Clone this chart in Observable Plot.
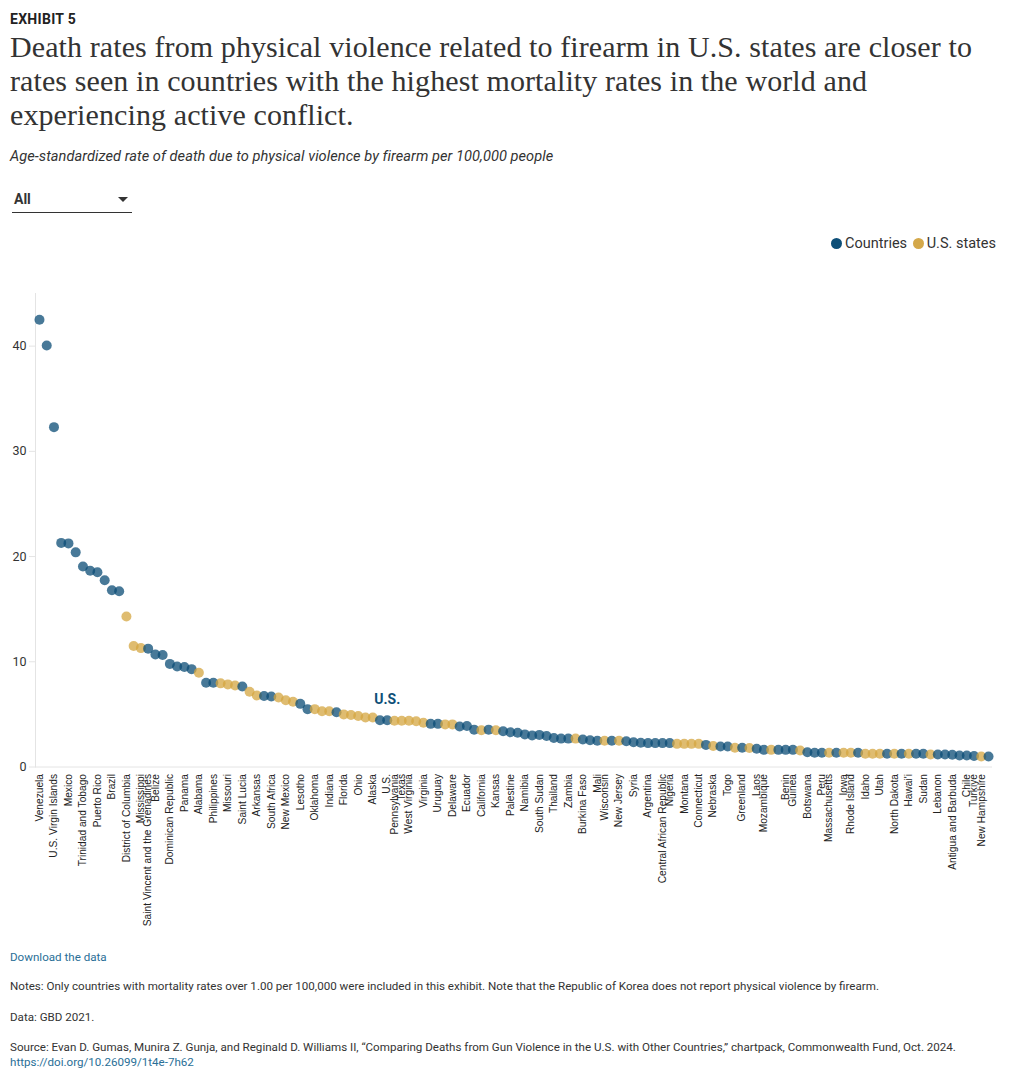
<!DOCTYPE html>
<html>
<head>
<meta charset="utf-8">
<script src="https://cdn.jsdelivr.net/npm/d3@7"></script>
<script src="https://cdn.jsdelivr.net/npm/@observablehq/plot@0.6"></script>
<style>
  html, body { margin: 0; padding: 0; background: #fff; }
  body { width: 1020px; height: 1081px; position: relative; font-family: Roboto, "Noto Sans", sans-serif; color: #333; overflow: hidden; }
  .abs { position: absolute; left: 10px; white-space: nowrap; }
  #exhibit { top: 11px; font-weight: 700; font-size: 14px; line-height: 16px; color: #222; letter-spacing: 0.3px; }
  #title { top: 30px; font-family: "Liberation Serif", "DejaVu Serif", serif; font-size: 30px; line-height: 34px; color: #333; letter-spacing: 0.1px; }
  #subtitle { top: 147px; font-style: italic; font-size: 14.6px; line-height: 18px; color: #333; letter-spacing: 0.05px; }
  #dropdown { top: 189px; left: 12px; width: 120px; height: 23px; border-bottom: 1px solid #333; }
  #dropdown span { position: absolute; left: 2px; top: 1px; font-weight: 700; font-size: 14px; line-height: 18px; color: #333; }
  #dropdown i { position: absolute; left: 106px; top: 8px; width: 0; height: 0; border-left: 5px solid transparent; border-right: 5px solid transparent; border-top: 5px solid #333; }
  #legend { position: absolute; top: 235px; right: 24px; font-size: 14.5px; line-height: 18px; color: #333; white-space: nowrap; }
  #legend .sw { display: inline-block; width: 11px; height: 11px; border-radius: 50%; vertical-align: -1px; margin-right: 3px; }
  #chart { position: absolute; top: 260px; left: 0; }
  .foot { font-size: 11.6px; line-height: 14px; color: #333; }
  .link { color: #2a6f97; }
</style>
</head>
<body>
<div id="exhibit" class="abs">EXHIBIT 5</div>
<div id="title" class="abs">Death rates from physical violence related to firearm in U.S. states are closer to<br>rates seen in countries with the highest mortality rates in the world and<br>experiencing active conflict.</div>
<div id="subtitle" class="abs">Age-standardized rate of death due to physical violence by firearm per 100,000 people</div>
<div id="dropdown" class="abs"><span>All</span><i></i></div>
<div id="legend"><span class="sw" style="background:#0d4f78"></span>Countries <span class="sw" style="background:#d4a84a;margin-left:2px"></span>U.S. states</div>
<div id="chart"></div>
<div class="abs foot link" style="top:950px">Download the data</div>
<div class="abs foot" style="top:979px">Notes: Only countries with mortality rates over 1.00 per 100,000 were included in this exhibit. Note that the Republic of Korea does not report physical violence by firearm.</div>
<div class="abs foot" style="top:1010px">Data: GBD 2021.</div>
<div class="abs foot" style="top:1040px">Source: Evan D. Gumas, Munira Z. Gunja, and Reginald D. Williams II, “Comparing Deaths from Gun Violence in the U.S. with Other Countries,” chartpack, Commonwealth Fund, Oct. 2024.</div>
<div class="abs foot link" style="top:1055px">https://doi.org/10.26099/1t4e-7h62</div>
<script>
// Categories in plotted order
const names = [
  "Venezuela","Colombia","U.S. Virgin Islands","Honduras","Mexico","Guatemala","Trinidad and Tobago","Jamaica","Puerto Rico","Haiti",
  "Brazil","El Salvador","District of Columbia","Louisiana","Mississippi","Saint Vincent and the Grenadines","Belize","Guyana","Dominican Republic","Bahamas",
  "Panama","Saint Kitts and Nevis","Alabama","Iraq","Philippines","South Carolina","Missouri","Tennessee","Saint Lucia","Georgia",
  "Arkansas","Yemen","South Africa","Maryland","New Mexico","Illinois","Lesotho","Costa Rica","Oklahoma","North Carolina",
  "Indiana","Somalia","Florida","Kentucky","Ohio","Michigan","Alaska","Eswatini","U.S.","Pennsylvania",
  "Texas","West Virginia","Nevada","Virginia","Cameroon","Uruguay","Arizona","Delaware","Democratic Republic of the Congo","Ecuador",
  "Afghanistan","California","Zimbabwe","Kansas","Chad","Palestine","Myanmar","Namibia","Côte d'Ivoire","South Sudan",
  "Congo","Thailand","Angola","Zambia","Colorado","Burkina Faso","Niger","Mali","Wisconsin","Libya",
  "New Jersey","Kenya","Syria","Uganda","Argentina","Ethiopia","Central African Republic","Nigeria","Washington","Montana",
  "New York","Connecticut","Guinea-Bissau","Nebraska","Paraguay","Togo","Oregon","Greenland","Wyoming","Laos",
  "Mozambique","South Dakota","Nicaragua","Benin","Guinea","Minnesota","Botswana","Sierra Leone","Peru","Massachusetts",
  "Liberia","Iowa","Rhode Island","Madagascar","Idaho","Vermont","Utah","Gabon","North Dakota","Pakistan",
  "Hawai'i","Tanzania","Sudan","Maine","Lebanon","Albania","Antigua and Barbuda","Iran","Chile","Turkiye",
  "New Hampshire","Montenegro"
];
// Age-standardized firearm violence death rate per 100,000
const rates = [
  42.5,40.05,32.3,21.3,21.25,20.4,19.05,18.65,18.5,17.75,
  16.8,16.7,14.3,11.5,11.3,11.25,10.7,10.65,9.8,9.55,
  9.5,9.3,8.95,8.0,8.0,7.95,7.85,7.75,7.65,7.15,
  6.8,6.75,6.7,6.6,6.35,6.2,6.0,5.5,5.5,5.3,
  5.3,5.2,5.0,4.95,4.85,4.7,4.7,4.45,4.45,4.4,
  4.4,4.4,4.35,4.2,4.1,4.1,4.05,4.05,3.85,3.9,
  3.55,3.5,3.55,3.5,3.4,3.3,3.25,3.1,3.0,3.05,
  2.95,2.75,2.7,2.7,2.7,2.62,2.55,2.5,2.5,2.5,
  2.5,2.45,2.35,2.3,2.27,2.27,2.27,2.27,2.2,2.2,
  2.2,2.2,2.1,2.0,1.95,1.95,1.83,1.83,1.8,1.73,
  1.63,1.63,1.63,1.63,1.63,1.57,1.41,1.35,1.35,1.35,
  1.35,1.35,1.35,1.35,1.26,1.26,1.26,1.26,1.26,1.26,
  1.26,1.26,1.26,1.19,1.19,1.19,1.16,1.1,1.1,1.04,
  1.0,1.0
];
// C = country, S = U.S. state
const groups = [
  "C","C","C","C","C","C","C","C","C","C",
  "C","C","S","S","S","C","C","C","C","C",
  "C","C","S","C","C","S","S","S","C","S",
  "S","C","C","S","S","S","C","C","S","S",
  "S","C","S","S","S","S","S","C","C","S",
  "S","S","S","S","C","C","S","S","C","C",
  "C","S","C","S","C","C","C","C","C","C",
  "C","C","C","C","S","C","C","C","S","C",
  "S","C","C","C","C","C","C","C","S","S",
  "S","S","C","S","C","C","S","C","S","C",
  "C","S","C","C","C","S","C","C","C","S",
  "C","S","S","C","S","S","S","C","S","C",
  "S","C","C","S","C","C","C","C","C","C",
  "S","C"
];
// Category labels shown on the x axis
const tickLabels = [
  "Venezuela","U.S. Virgin Islands","Mexico","Trinidad and Tobago","Puerto Rico","Brazil","District of Columbia","Mississippi",
  "Saint Vincent and the Grenadines","Belize","Dominican Republic","Panama","Alabama","Philippines","Missouri","Saint Lucia",
  "Arkansas","South Africa","New Mexico","Lesotho","Oklahoma","Indiana","Florida","Ohio","Alaska","U.S.","Pennsylvania",
  "Texas","West Virginia","Virginia","Uruguay","Delaware","Ecuador","California","Kansas","Palestine","Namibia","South Sudan",
  "Thailand","Zambia","Burkina Faso","Mali","Wisconsin","New Jersey","Syria","Argentina","Central African Republic","Nigeria",
  "Montana","Connecticut","Nebraska","Togo","Greenland","Laos","Mozambique","Benin","Guinea","Botswana","Peru","Massachusetts",
  "Iowa","Rhode Island","Idaho","Utah","North Dakota","Hawai'i","Sudan","Lebanon","Antigua and Barbuda","Chile","Turkiye","New Hampshire"
];
const yTicks = [0, 10, 20, 30, 40];
const groupKeys = ["C", "S"];
const groupColors = ["#0b4c75", "#d4a540"];
const highlight = ["U.S."];

const data = names.map((n, i) => ({name: n, rate: rates[i], group: groups[i]}));

const chart = Plot.plot({
  width: 1020,
  height: 682,
  marginTop: 33,
  marginLeft: 35,
  marginRight: 28,
  marginBottom: 175.5,
  style: {fontFamily: "Roboto, sans-serif", background: "transparent", overflow: "visible"},
  x: {type: "point", domain: names, padding: 0.55, label: null},
  y: {domain: [0, 45], label: null},
  color: {domain: groupKeys, range: groupColors},
  marks: [
    Plot.frame({anchor: "left", stroke: "#e4e4e4"}),
    Plot.ruleY([0], {stroke: "#e4e4e4"}),
    Plot.axisY({ticks: yTicks, tickSize: 6, tickPadding: 3, stroke: "#e4e4e4", fill: "#333", fontSize: 12.5, label: null}),
    Plot.axisX({ticks: tickLabels, tickRotate: -90, tickSize: 0, tickPadding: 7, fontSize: 10.2, fontFamily: "Liberation Sans, Arial, sans-serif", fill: "#222", label: null}),
    Plot.dot(data, {x: "name", y: "rate", fill: "group", r: 5, fillOpacity: 0.75}),
    Plot.text(data.filter(d => highlight.includes(d.name)), {x: "name", y: "rate", text: "name", dy: -21, fill: "#0d4f78", fontWeight: "bold", fontSize: 14})
  ]
});
document.getElementById("chart").appendChild(chart);
</script>
</body>
</html>
